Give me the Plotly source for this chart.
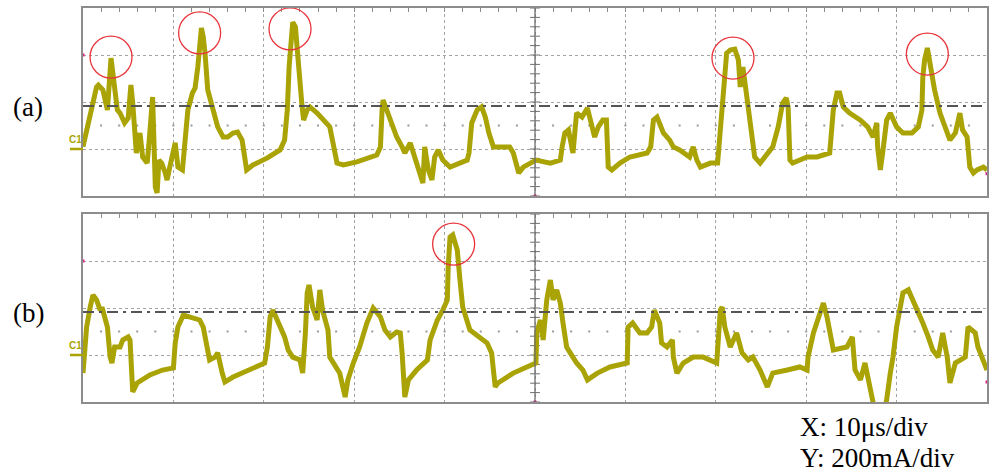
import numpy as np
import plotly.graph_objects as go

# ---- Channel C1 current, trace (a): time in microseconds, current in mA ----
t_a = [0.0, 0.8, 1.5, 1.7, 2.2, 2.7, 3.1, 3.8, 4.1, 4.6, 5.0, 5.3, 5.5, 5.9, 6.3, 6.6, 7.1, 7.3,
       7.6, 7.7, 8.0, 8.2, 8.4, 8.7, 9.1, 9.3, 9.6, 10.0, 10.2, 10.5, 11.0, 11.3, 11.6, 12.1,
       12.4, 12.7, 13.1, 13.3, 13.5, 13.8, 14.4, 14.9, 15.5, 16.0, 16.6, 17.1, 17.6, 17.9, 18.1,
       18.8, 20.4, 21.8, 22.3, 22.6, 22.8, 23.2, 23.5, 23.8, 24.0, 24.2, 24.4, 24.8, 25.1, 25.9,
       27.3, 27.7, 28.1, 28.8, 30.3, 32.5, 32.9, 33.1, 33.2, 33.6, 34.2, 34.7, 35.3, 35.6, 36.2,
       36.7, 37.3, 37.6, 37.8, 38.2, 38.6, 38.9, 39.3, 39.8, 40.6, 41.7, 42.5, 42.7, 43.0, 43.6,
       44.1, 44.5, 44.9, 45.4, 47.2, 47.6, 48.0, 48.2, 48.7, 50.1, 51.7, 52.8, 53.0, 53.3, 53.7,
       54.1, 54.2, 54.6, 55.2, 55.8, 56.3, 56.6, 57.0, 57.5, 57.9, 58.1, 58.5, 59.4, 60.5, 62.4,
       62.8, 63.1, 63.5, 63.8, 64.2, 64.9, 65.3, 66.0, 67.1, 67.5, 67.9, 68.3, 69.4, 70.2, 70.5,
       70.7, 71.0, 71.2, 71.6, 72.1, 72.5, 72.7, 73.0, 73.3, 73.6, 74.0, 74.3, 74.9, 75.7, 76.3,
       76.9, 77.4, 77.8, 78.0, 78.2, 78.5, 80.1, 81.2, 82.6, 83.0, 83.4, 83.7, 84.1, 84.8, 86.0,
       86.8, 87.4, 87.8, 87.9, 88.2, 88.5, 88.9, 89.3, 90.0, 90.7, 91.7, 92.4, 92.8, 92.9, 93.1,
       93.4, 93.7, 94.2, 94.8, 95.4, 95.9, 96.5, 97.0, 97.3, 97.8, 98.1, 98.5, 98.9, 99.6, 100.0]
i_a = [10, 136, 264, 272, 251, 166, 387, 166, 153, 111, 132, 272, 196, -17, 68, -34, -60, 26,
       208, 221, -162, -187, -47, -60, -102, -132, -77, 9, 26, -77, -89, 38, 166, 238,
       260, 349, 515, 477, 408, 251, 166, 94, 51, 51, 68, 72, 38, -47, -89,
       -68, -38, -4, 38, 166, 349, 540, 519, 379, 264, 196, 123, 166, 179, 153,
       94, 26, -60, -68, -55, -26, 9, 179, 208, 166, 94, 51, 9, -17, 26,
       -34, -102, -145, 9, -89, -132, -34, -4, -47, -77, -60, -47, -17, 111, 166,
       179, 136, 68, 9, 9, -17, -77, -102, -77, -47, -60, -47, 9, 68, 81,
       9, -17, 153, 136, 174, 94, 51, 94, 123, 123, -77, -89, -60, -34, -17,
       9, 123, 136, 111, 68, 38, 9, -4, -34, 9, -47, -77, -60, -60, 68,
       196, 306, 408, 421, 425, 379, 264, 349, 264, 166, 26, -34, -60, -17, 9,
       94, 196, 217, 179, -47, -60, -34, -34, -17, 166, 238, 238, 179, 153, 123,
       94, 51, 111, 9, -89, -4, 123, 153, 94, 68, 68, 94, 166, 306, 379,
       430, 349, 251, 153, 81, 38, 68, 153, 81, 51, -77, -102, -89, -77, -89]

# ---- Channel C1 current, trace (b) ----
t_b = [0.0, 0.2, 0.4, 0.8, 1.1, 1.5, 1.9, 2.1, 2.3, 2.7, 3.0, 3.2, 3.5, 4.1, 4.4, 5.0, 5.2, 5.4,
       5.5, 6.0, 7.4, 8.8, 10.0, 10.2, 10.5, 11.1, 11.8, 12.9, 13.3, 13.7, 14.0, 14.6, 14.9, 15.4,
       15.7, 16.6, 18.5, 20.1, 20.4, 20.7, 21.0, 21.6, 22.0, 22.3, 22.7, 23.2, 24.0, 24.3, 24.6,
       24.8, 25.0, 25.4, 25.9, 26.2, 26.5, 27.1, 27.3, 27.9, 28.4, 29.0, 29.3, 29.9, 30.6, 31.4,
       32.1, 32.9, 33.4, 34.0, 34.7, 35.1, 35.3, 35.6, 36.0, 36.9, 38.1, 38.4, 39.2, 39.8, 40.3,
       40.4, 40.6, 40.9, 41.4, 41.7, 42.0, 42.8, 43.7, 44.7, 45.2, 45.6, 45.9, 47.6, 49.1, 50.1,
       50.2, 50.6, 50.9, 51.3, 51.7, 52.0, 52.4, 52.8, 53.1, 53.5, 53.9, 54.6, 55.3, 55.8, 56.9,
       58.3, 60.2, 60.3, 60.8, 61.6, 62.4, 62.9, 63.2, 63.6, 63.8, 64.0, 64.6, 65.2, 65.3, 65.7,
       66.4, 67.5, 68.6, 70.1, 70.5, 70.7, 71.0, 71.6, 72.3, 72.9, 73.6, 74.1, 74.9, 75.7, 76.3,
       77.9, 79.3, 80.1, 80.2, 80.8, 81.5, 81.9, 82.3, 82.6, 83.0, 84.5, 85.1, 85.4, 86.0, 86.5,
       86.8, 87.2, 87.6, 88.6, 88.9, 89.3, 89.6, 90.0, 90.7, 91.3, 91.8, 92.4, 92.9, 93.5, 94.0,
       94.6, 95.1, 95.6, 95.9, 96.5, 97.0, 97.6, 97.9, 98.3, 98.7, 99.0, 99.6, 100.0]
i_b = [-77, 9, 119, 204, 255, 234, 191, 204, 179, 119, -9, -34, 34, 34, 64, 77, 64, -119,
       -157, -119, -85, -64, -55, 51, 119, 170, 162, 149, 119, 34, -21, -9, 9, -77,
       -115, -94, -64, -34, 34, 162, 191, 136, 94, 77, 21, -9, -21, -77, 94,
       264, 298, 204, 149, 277, 191, 106, -9, -51, -77, -179, -106, -34, 34, 136,
       200, 162, 106, 77, 98, 94, 9, -179, -106, -64, -21, 64, 149, 191, 234,
       374, 502, 511, 447, 319, 204, 106, 77, 51, 9, -136, -119, -77, -51, -34,
       94, 149, 64, 234, 319, 234, 277, 221, 136, 34, 9, -34, -64, -106, -77,
       -51, -34, 119, 136, 94, 94, 119, 191, 149, 136, 51, 34, 64, -9, -77,
       -34, -9, -9, -34, 191, 204, 119, 34, 94, 9, -21, -9, -64, -136, -77,
       -64, -51, -64, -9, 94, 179, 221, 162, 94, 21, 34, 77, -64, -106, -34,
       -94, -191, -240, -240, -191, -77, -9, 119, 264, 277, 234, 191, 136, 77, 21,
       -9, 94, -9, -119, -34, -21, -9, 119, 106, 94, 34, -21, -64]

# Highlighted current peaks (circle centres), per trace
peaks_a = [(3.1, 391), (12.9, 494), (22.9, 511), (71.9, 387), (93.4, 404)]
peaks_b = [(41.0, 472)]

threshold_ma = 183          # dash-dot reference level
t_range = [0, 100]          # 10 us/div, 10 divisions
i_range = [-200, 600]       # 200 mA/div, 4 divisions

W, H = 990, 474
TRACE = "#aaa306"
GRID = "#a3a3a3"
FRAME = "#8c8c8c"
SERIF = "Liberation Serif, Times New Roman, serif"

panels = [
    dict(t=t_a, i=i_a, peaks=peaks_a, xa="x", ya="y", top=8, bottom=196, label="(a)",
         edge_marks=[(0, 400), (50, -200), (100, -105)]),
    dict(t=t_b, i=i_b, peaks=peaks_b, xa="x2", ya="y2", top=214, bottom=402, label="(b)",
         edge_marks=[(0, 400), (50, -200), (100, -115)]),
]

fig = go.Figure()
shapes, annotations = [], []
px_left, px_right = 83, 987
circle_r_px = 21
us_per_px = (t_range[1] - t_range[0]) / (px_right - px_left)

for k, p in enumerate(panels):
    sfx = "" if k == 0 else "2"
    ma_per_px = (i_range[1] - i_range[0]) / (p["bottom"] - p["top"])
    dom_y = [1 - p["bottom"] / H, 1 - p["top"] / H]

    fig.update_layout(**{
        "xaxis" + sfx: dict(
            domain=[px_left / W, px_right / W], range=t_range, anchor="y" + sfx,
            tick0=0, dtick=10, showgrid=True, gridcolor=GRID, griddash="dot", gridwidth=1,
            showline=True, linecolor=FRAME, linewidth=1.5, mirror=True, side="top",
            ticks="inside", ticklen=4, tickcolor=FRAME, showticklabels=False, zeroline=False,
            minor=dict(dtick=2, ticks="inside", ticklen=4, tickcolor=FRAME, showgrid=False),
        ),
        "yaxis" + sfx: dict(
            domain=dom_y, range=i_range, anchor="x" + sfx,
            tick0=-200, dtick=200, showgrid=True, gridcolor=GRID, griddash="dot", gridwidth=1,
            showline=True, linecolor=FRAME, linewidth=1.5, mirror=True,
            ticks="", showticklabels=False, zeroline=False,
        ),
    })

    # centre graticule line with its 1/5-division marks
    shapes.append(dict(type="line", xref=p["xa"], yref=p["ya"], x0=50, x1=50,
                       y0=i_range[0], y1=i_range[1], line=dict(color="#6e6e6e", width=1.3)))
    ytick = np.arange(i_range[0], i_range[1] + 1, 40)
    fig.add_trace(go.Scatter(x=[50] * len(ytick), y=ytick, mode="markers", xaxis=p["xa"],
                             yaxis=p["ya"], hoverinfo="skip", showlegend=False,
                             marker=dict(symbol="line-ew", size=7,
                                         line=dict(color="#6e6e6e", width=1))))
    # dotted half-division row
    xdots = np.arange(2, 100, 2)
    fig.add_trace(go.Scatter(x=xdots, y=[100] * len(xdots), mode="markers", xaxis=p["xa"],
                             yaxis=p["ya"], hoverinfo="skip", showlegend=False,
                             marker=dict(symbol="square", size=2, color="#9a9a9a")))

    # threshold reference
    shapes.append(dict(type="line", xref=p["xa"], yref=p["ya"], x0=t_range[0], x1=t_range[1],
                       y0=threshold_ma, y1=threshold_ma,
                       line=dict(color="#555555", width=2, dash="11px,5px,3px,5px")))

    # measured current
    fig.add_trace(go.Scatter(x=p["t"], y=p["i"], mode="lines", xaxis=p["xa"], yaxis=p["ya"],
                             line=dict(color=TRACE, width=5), hoverinfo="skip",
                             showlegend=False))

    # peak highlight circles
    rx = circle_r_px * us_per_px
    ry = circle_r_px * ma_per_px
    for (tc, ic) in p["peaks"]:
        shapes.append(dict(type="circle", xref=p["xa"], yref=p["ya"],
                           x0=tc - rx, x1=tc + rx, y0=ic - ry, y1=ic + ry,
                           line=dict(color="#e8353b", width=1.3)))

    # trigger / position markers on the frame
    ex, ey = zip(*p["edge_marks"])
    fig.add_trace(go.Scatter(x=ex, y=ey, mode="markers", xaxis=p["xa"], yaxis=p["ya"],
                             cliponaxis=False, hoverinfo="skip", showlegend=False,
                             marker=dict(symbol="square", size=3, color="#e0208a")))

    # channel ground marker
    shapes.append(dict(type="line", xref="paper", yref=p["ya"] + " domain",
                       x0=70 / W, x1=px_left / W, y0=0.25, y1=0.25,
                       line=dict(color=TRACE, width=2.5)))
    annotations.append(dict(text="<b>C1</b>", xref="paper", yref=p["ya"], x=75 / W, y=0,
                            xanchor="center", yanchor="bottom", yshift=2, showarrow=False,
                            font=dict(family="Arial, Liberation Sans", size=10, color=TRACE)))

    annotations.append(dict(text=p["label"], xref="paper", yref="paper", x=28 / W,
                            y=1 - (p["top"] + 99) / H, xanchor="center", yanchor="middle",
                            showarrow=False, font=dict(family=SERIF, size=27, color="black")))

# scale settings, bottom right
annotations.append(dict(text="X: 10μs/div", xref="paper", yref="paper", x=799 / W,
                        y=1 - 443 / H, xanchor="left", yanchor="bottom", showarrow=False,
                        borderpad=0, font=dict(family=SERIF, size=27, color="black")))
annotations.append(dict(text="Y: 200mA/div", xref="paper", yref="paper", x=799 / W,
                        y=0, xanchor="left", yanchor="bottom", showarrow=False,
                        borderpad=0, font=dict(family=SERIF, size=27, color="black")))

fig.update_layout(width=W, height=H, margin=dict(l=0, r=0, t=0, b=0),
                  paper_bgcolor="white", plot_bgcolor="white",
                  shapes=shapes, annotations=annotations, showlegend=False)

fig.write_html("out.html")
